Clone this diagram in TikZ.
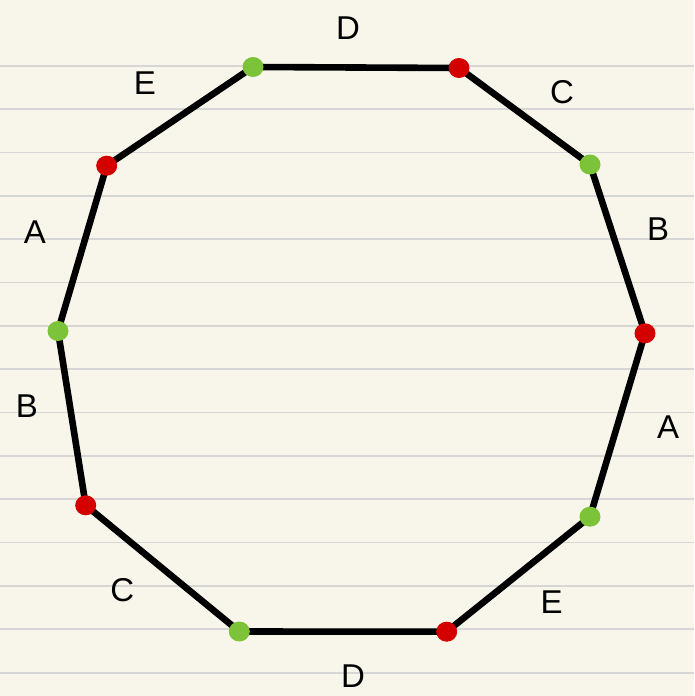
\documentclass[tikz,border=0pt]{standalone}
\usepackage{fontspec}
\setmainfont{Liberation Sans}
\usepackage{xcolor}
\usepackage{tikz}
\usetikzlibrary{positioning}

\definecolor{paper}{HTML}{F8F6EA}
\definecolor{rule}{HTML}{D6D6D4}
\definecolor{dotred}{HTML}{D40000}
\definecolor{dotgreen}{HTML}{7DC33A}

\tikzset{
    lato/.style={line width=6.6pt, line join=round},
    puntoR/.style={fill=dotred},
    puntoG/.style={fill=dotgreen},
    etichetta/.style={font=\fontsize{33}{38}\selectfont, inner sep=0pt}
}

\begin{document}
\begin{tikzpicture}[x=1pt, y=-1pt]
        % Foglio a righe
        \fill[paper] (0,0) rectangle (694,696);
        \useasboundingbox (0,0) rectangle (694,696);
        \foreach \k in {0,...,14}
            \draw[rule, line width=1.8pt] (0, 65.7+43.35*\k) -- (694, 65.7+43.35*\k);

        % Vertici del decagono
        \coordinate (v1) at (253, 67);
        \coordinate (v2) at (459, 68);
        \coordinate (v3) at (590, 164.5);
        \coordinate (v4) at (645, 333.3);
        \coordinate (v5) at (590, 516.7);
        \coordinate (v6) at (446.7, 631.7);
        \coordinate (v7) at (239.3, 631.5);
        \coordinate (v8) at (85.7, 505.3);
        \coordinate (v9) at (58, 331);
        \coordinate (v10) at (106.7, 165.7);

        % Lati
        \draw[lato] (v1) -- (v2) -- (v3) -- (v4) -- (v5) -- (v6)
            -- (v7) -- (v8) -- (v9) -- (v10) -- cycle;

        % Punti
        \foreach \v in {v2, v4, v6, v8, v10}
            \fill[puntoR] (\v) ellipse (10.5pt and 10pt);
        \foreach \v in {v1, v3, v5, v7, v9}
            \fill[puntoG] (\v) ellipse (10.5pt and 10pt);

        % Etichette
        \node[etichetta] (lD1) at (348, 28) {D};
        \node[etichetta] (lC1) at (562, 92) {C};
        \node[etichetta] (lB1) at (658, 229) {B};
        \node[etichetta] (lA1) at (668, 427) {A};
        \node[etichetta] (lE1) at (551.7, 601.7) {E};
        \node[etichetta] (lD2) at (353, 676) {D};
        \node[etichetta] (lC2) at (122.3, 590) {C};
        \node[etichetta] (lB2) at (27, 406) {B};
        \node[etichetta] (lA2) at (35, 232) {A};
        \node[etichetta] (lE2) at (145, 82.7) {E};
    \end{tikzpicture}
\end{document}
